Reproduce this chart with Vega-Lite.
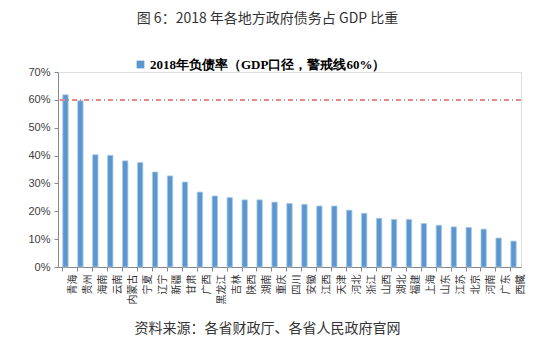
{
  "$schema": "https://vega.github.io/schema/vega-lite/v6.json",
  "width": 463,
  "height": 195,
  "autosize": {"type": "none"},
  "padding": {"left": 58, "top": 72, "right": 13, "bottom": 83},
  "background": "white",
  "title": {
    "text": "图 6：2018 年各地方政府债务占 GDP 比重",
    "font": "Noto Sans CJK SC",
    "fontSize": 14,
    "fontWeight": "normal",
    "color": "#333333",
    "anchor": "middle",
    "frame": "group",
    "dx": -22,
    "offset": 32
  },
  "data": {
    "values": [
      {"province": "青海", "rate": 0.618},
      {"province": "贵州", "rate": 0.597},
      {"province": "海南", "rate": 0.403},
      {"province": "云南", "rate": 0.401},
      {"province": "内蒙古", "rate": 0.381},
      {"province": "宁夏", "rate": 0.375},
      {"province": "辽宁", "rate": 0.341},
      {"province": "新疆", "rate": 0.327},
      {"province": "甘肃", "rate": 0.305},
      {"province": "广西", "rate": 0.269},
      {"province": "黑龙江", "rate": 0.255},
      {"province": "吉林", "rate": 0.249},
      {"province": "陕西", "rate": 0.241},
      {"province": "湖南", "rate": 0.241},
      {"province": "重庆", "rate": 0.233},
      {"province": "四川", "rate": 0.228},
      {"province": "安徽", "rate": 0.225},
      {"province": "江西", "rate": 0.219},
      {"province": "天津", "rate": 0.219},
      {"province": "河北", "rate": 0.204},
      {"province": "浙江", "rate": 0.193},
      {"province": "山西", "rate": 0.175},
      {"province": "湖北", "rate": 0.171},
      {"province": "福建", "rate": 0.171},
      {"province": "上海", "rate": 0.156},
      {"province": "山东", "rate": 0.150},
      {"province": "江苏", "rate": 0.144},
      {"province": "北京", "rate": 0.142},
      {"province": "河南", "rate": 0.136},
      {"province": "广东", "rate": 0.104},
      {"province": "西藏", "rate": 0.093}
    ]
  },
  "layer": [
    {
      "mark": {"type": "bar", "stroke": "#a9cbea", "strokeWidth": 0.8},
      "encoding": {
        "x": {
          "field": "province",
          "type": "nominal",
          "sort": null,
          "scale": {"paddingInner": 0.64, "paddingOuter": 0.32},
          "axis": {
            "title": "资料来源：各省财政厅、各省人民政府官网",
            "titleFont": "Noto Sans CJK SC",
            "titleFontSize": 14,
            "titleFontWeight": "normal",
            "titleColor": "#333333",
            "titleX": 209,
            "titleY": 61,
            "titleBaseline": "middle",
            "titleAlign": "center",
            "labelAngle": -90,
            "labelFont": "Noto Sans CJK SC",
            "labelFontSize": 10,
            "labelColor": "#333333",
            "labelPadding": 3,
            "labelOverlap": false,
            "bandPosition": 0,
            "labelOffset": 7.47,
            "domainColor": "#888888",
            "tickColor": "#888888",
            "tickSize": 4
          }
        },
        "y": {
          "field": "rate",
          "type": "quantitative",
          "scale": {"domain": [0, 0.7], "nice": false},
          "axis": {
            "title": null,
            "format": ".0%",
            "values": [0, 0.1, 0.2, 0.3, 0.4, 0.5, 0.6, 0.7],
            "labelOverlap": false,
            "labelFont": "Liberation Sans",
            "labelFontSize": 11,
            "labelColor": "#404040",
            "labelPadding": 4,
            "domainColor": "#888888",
            "tickColor": "#888888",
            "tickSize": 4,
            "grid": false
          }
        },
        "color": {
          "datum": "2018年负债率（GDP口径，警戒线60%）",
          "scale": {"range": ["#5b96cf"]},
          "legend": {
            "title": null,
            "orient": "none",
            "legendX": 76,
            "legendY": -14,
            "symbolType": "square",
            "symbolSize": 60,
            "symbolStrokeWidth": 0,
            "labelFont": "Liberation Serif",
            "labelFontSize": 13,
            "labelFontWeight": "bold",
            "labelColor": "#000000",
            "labelOffset": 3,
            "labelLimit": 0
          }
        }
      }
    },
    {
      "mark": {"type": "rule", "color": "#e58a8a", "strokeWidth": 1, "strokeDash": [5, 3, 1, 3]},
      "encoding": {
        "y": {
          "datum": 0.6,
          "type": "quantitative",
          "axis": {
            "title": null,
            "format": ".0%",
            "values": [0, 0.1, 0.2, 0.3, 0.4, 0.5, 0.6, 0.7],
            "labelOverlap": false,
            "labelFont": "Liberation Sans",
            "labelFontSize": 11,
            "labelColor": "#404040",
            "labelPadding": 4,
            "domainColor": "#888888",
            "tickColor": "#888888",
            "tickSize": 4,
            "grid": false
          }
        }
      }
    }
  ]
}
